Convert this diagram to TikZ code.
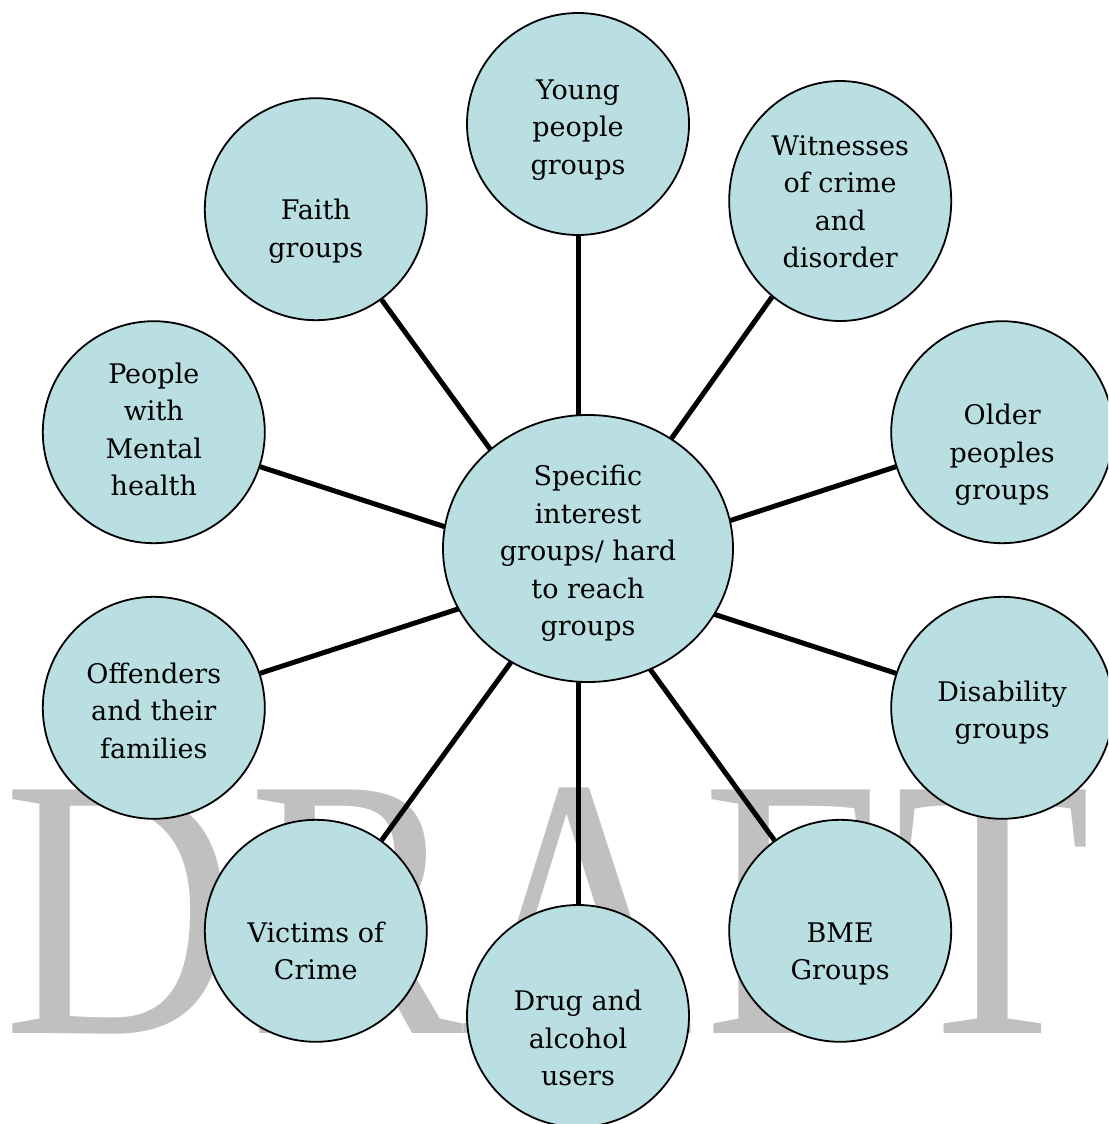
\documentclass[tikz,border=0pt]{standalone}
\usepackage{fontspec}
\setmainfont{DejaVu Serif}
\newfontfamily\markfont{Liberation Serif}
\usetikzlibrary{shapes.geometric}
\pgfdeclarelayer{wm}
\pgfdeclarelayer{bg}
\pgfsetlayers{wm,bg,main}
\definecolor{bubblefill}{RGB}{186,223,227}
\definecolor{markgray}{RGB}{192,192,192}
\tikzset{
  bubble/.style={circle, draw=black, line width=1.8pt, fill=bubblefill,
    minimum size=222pt, inner sep=0pt},
  oval/.style={ellipse, draw=black, line width=1.8pt, fill=bubblefill,
    inner sep=0pt},
  caption/.style={inner sep=0pt, align=center, text=black,
    font=\fontsize{27}{37.5}\selectfont},
  spoke/.style={line width=5pt, draw=black},
  markletter/.style={anchor=base, inner sep=0pt, text=markgray,
    font=\fontsize{372}{372}\markfont}
}
\begin{document}
\begin{tikzpicture}[x=1pt,y=-1pt]
\useasboundingbox (0,0) rectangle (1108,1124);
\clip (0,0) rectangle (1108,1124);

% watermark letters
\begin{pgfonlayer}{wm}
  \node[markletter] (wD) at (119.5,1033) {\scalebox{0.867}[1]{D}};
  \node[markletter] (wR) at (356.5,1033) {\scalebox{0.867}[1]{R}};
  \node[markletter] (wA) at (576.5,1033) {\scalebox{0.867}[1]{A}};
  \node[markletter] (wF) at (792,1033) {\scalebox{0.867}[1]{F}};
  \node[markletter] (wT) at (993,1033) {\scalebox{0.867}[1]{T}};
\end{pgfonlayer}

% hub of the spokes
\coordinate (hub) at (578,570);

% central group
\node[oval, minimum width=290pt, minimum height=267pt] (centre) at (588,548.5) {};

% surrounding groups
\node[bubble] (young)     at (578,124)      {};
\node[oval, minimum width=222pt, minimum height=240pt] (witness) at (840.2,201) {};
\node[bubble] (older)     at (1002.2,432.2) {};
\node[bubble] (disab)     at (1002.2,707.8) {};
\node[bubble] (bme)       at (840.2,930.8)  {};
\node[bubble] (drug)      at (578,1016)     {};
\node[bubble] (victims)   at (315.8,930.8)  {};
\node[bubble] (offenders) at (153.8,707.8)  {};
\node[bubble] (mental)    at (153.8,432.2)  {};
\node[bubble] (faith)     at (315.8,209.2)  {};

% captions
\node[caption] (centre-t)    at ([yshift=-5pt]centre.center)    {Specific\\interest\\groups/ hard\\to reach\\groups};
\node[caption] (young-t)     at ([yshift=-6pt]young.center)     {Young\\people\\groups};
\node[caption] (witness-t)   at ([yshift=-1pt]witness.center)   {Witnesses\\of crime\\and\\disorder};
\node[caption] (older-t)     at ([yshift=-23pt]older.center)    {Older\\peoples\\groups};
\node[caption] (disab-t)     at ([yshift=-5pt]disab.center)     {Disability\\groups};
\node[caption] (bme-t)       at ([yshift=-23pt]bme.center)      {BME\\Groups};
\node[caption] (drug-t)      at ([yshift=-22pt]drug.center)     {Drug and\\alcohol\\users};
\node[caption] (victims-t)   at ([yshift=-20pt]victims.center)  {Victims of\\Crime};
\node[caption] (offenders-t) at ([yshift=-3pt]offenders.center) {Offenders\\and their\\families};
\node[caption] (mental-t)    at ([yshift=3pt]mental.center)     {People\\with\\Mental\\health};
\node[caption] (faith-t)     at ([yshift=-22pt]faith.center)    {Faith\\groups};

% spokes
\begin{pgfonlayer}{bg}
  \foreach \n in {young,witness,older,disab,bme,drug,victims,offenders,mental,faith}
    \draw[spoke] (hub) -- (\n);
\end{pgfonlayer}
\end{tikzpicture}
\end{document}
